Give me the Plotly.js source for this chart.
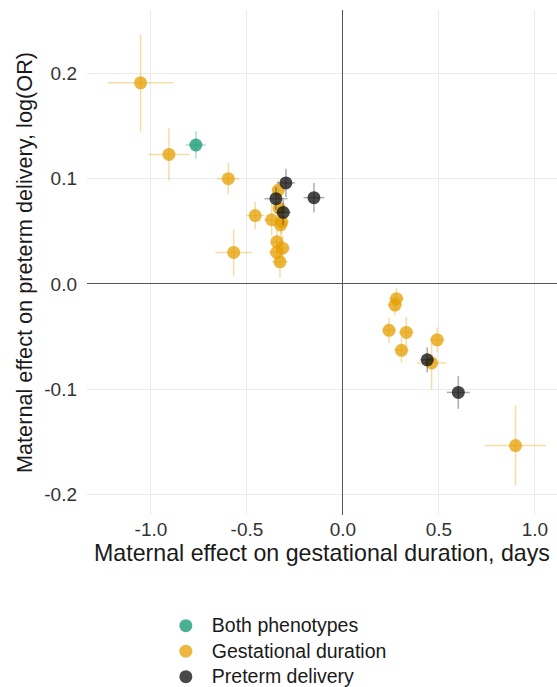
<!DOCTYPE html>
<html>
<head>
<meta charset="utf-8">
<script src="https://cdn.plot.ly/plotly-3.0.1.min.js"></script>
<style>html,body{margin:0;padding:0;background:#fff;}#chart{width:557px;height:687px;}</style>
</head>
<body>
<div id="chart"></div>
<script>
// Both phenotypes
const bothX = [-0.766];
const bothY = [0.132];
const bothXErr = [0.052];
const bothYErr = [0.013];

// Gestational duration
const gestX = [-1.054, -0.906, -0.597, -0.337, -0.332, -0.457, -0.371, -0.319, -0.325, -0.344, -0.314, -0.345, -0.569, -0.328, 0.279, 0.271, 0.240, 0.330, 0.491, 0.305, 0.462, 0.899];
const gestY = [0.191, 0.123, 0.100, 0.089, 0.072, 0.065, 0.061, 0.059, 0.056, 0.040, 0.034, 0.030, 0.030, 0.021, -0.014, -0.020, -0.044, -0.046, -0.053, -0.063, -0.075, -0.1535];
const gestXErr = [0.17, 0.107, 0.058, 0.03, 0.03, 0.048, 0.04, 0.04, 0.04, 0.03, 0.035, 0.04, 0.095, 0.04, 0.04, 0.04, 0.035, 0.04, 0.04, 0.04, 0.078, 0.159];
const gestYErr = [0.046, 0.025, 0.015, 0.01, 0.012, 0.013, 0.015, 0.012, 0.02, 0.012, 0.012, 0.012, 0.022, 0.015, 0.01, 0.01, 0.012, 0.015, 0.012, 0.012, 0.025, 0.038];

// Preterm delivery
const pretX = [-0.297, -0.349, -0.151, -0.311, 0.439, 0.601];
const pretY = [0.096, 0.081, 0.082, 0.068, -0.072, -0.103];
const pretXErr = [0.048, 0.06, 0.054, 0.04, 0.035, 0.06];
const pretYErr = [0.0135, 0.011, 0.014, 0.012, 0.012, 0.0155];

const seriesNames = ["Both phenotypes", "Gestational duration", "Preterm delivery"];
const xTickVals = [-1, -0.5, 0, 0.5, 1];
const xTickText = ['-1.0', '-0.5', '0.0', '0.5', '1.0'];
const yTickVals = [-0.2, -0.1, 0, 0.1, 0.2];
const yTickText = ['-0.2', '-0.1', '0.0', '0.1', '0.2'];

function mk(name, x, y, xe, ye, color, barColor) {
  return {
    type: 'scatter', mode: 'markers',
    name: '<span style="font-size:19.5px">' + name + '</span>',
    x: x, y: y,
    error_x: {type: 'data', array: xe, visible: true, color: barColor, thickness: 1.5, width: 0},
    error_y: {type: 'data', array: ye, visible: true, color: barColor, thickness: 1.5, width: 0},
    marker: {size: 13, color: color, line: {width: 0}}
  };
}

const traces = [
  mk(seriesNames[0], bothX, bothY, bothXErr, bothYErr, 'rgba(27,158,119,0.8)', 'rgba(27,158,119,0.35)'),
  mk(seriesNames[1], gestX, gestY, gestXErr, gestYErr, 'rgba(230,159,0,0.75)', 'rgba(230,159,0,0.35)'),
  mk(seriesNames[2], pretX, pretY, pretXErr, pretYErr, 'rgba(20,20,20,0.78)', 'rgba(20,20,20,0.35)')
];

const layout = {
  width: 557, height: 687,
  margin: {l: 87, r: 0, t: 10, b: 172, autoexpand: false},
  paper_bgcolor: '#fff', plot_bgcolor: '#fff',
  font: {family: 'Liberation Sans, Arial, sans-serif', color: '#1a1a1a'},
  showlegend: true,
  legend: {
    x: 0.155, y: -0.184, xanchor: 'left', yanchor: 'top', orientation: 'v',
    itemwidth: 42,
    font: {size: 17.3, color: '#1a1a1a'}, bgcolor: 'rgba(0,0,0,0)', traceorder: 'normal'
  },
  xaxis: {
    automargin: false,
    range: [-1.333, 1.115],
    tickvals: xTickVals, ticktext: xTickText,
    showgrid: true, gridcolor: '#ebebeb', gridwidth: 1,
    zeroline: true, zerolinecolor: '#555', zerolinewidth: 1,
    showline: false, ticks: '', ticklabelstandoff: 1,
    tickfont: {size: 19, color: '#333'},
    title: {text: 'Maternal effect on gestational duration, days', font: {size: 23.2, color: '#1a1a1a'}, standoff: 1}
  },
  yaxis: {
    automargin: false,
    range: [-0.2194, 0.2602],
    tickvals: yTickVals, ticktext: yTickText,
    showgrid: true, gridcolor: '#ebebeb', gridwidth: 1,
    zeroline: true, zerolinecolor: '#555', zerolinewidth: 1,
    showline: false, ticks: '', ticklabelstandoff: 9,
    tickfont: {size: 19, color: '#333'},
    title: {text: 'Maternal effect on preterm delivery, log(OR)', font: {size: 21.7, color: '#1a1a1a'}, standoff: 5}
  }
};

Plotly.newPlot('chart', traces, layout, {displayModeBar: false, staticPlot: true});
</script>
</body>
</html>
